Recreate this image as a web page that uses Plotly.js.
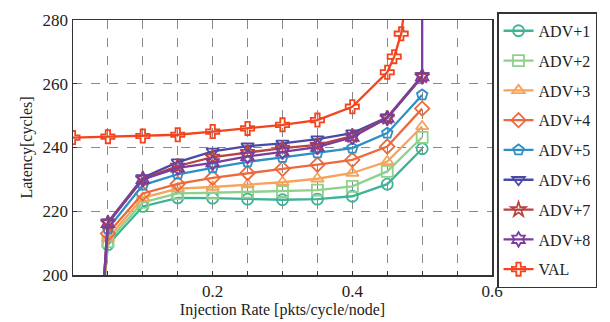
<!DOCTYPE html>
<html><head><meta charset="utf-8">
<script src="https://cdn.plot.ly/plotly-3.0.1.min.js"></script>
<style>html,body{margin:0;padding:0;background:#fff}#chart{width:610px;height:322px}</style>
</head><body><div id="chart"></div>
<script>
// injection rates
const xAdv = [0.04, 0.05, 0.10, 0.15, 0.20, 0.25, 0.30, 0.35, 0.40, 0.45, 0.50];
const xAdv8 = [0.04, 0.05, 0.10, 0.15, 0.20, 0.25, 0.30, 0.35, 0.40, 0.45, 0.50, 0.50];
const xVal = [0.00, 0.05, 0.10, 0.15, 0.20, 0.25, 0.30, 0.35, 0.40, 0.45, 0.46, 0.47, 0.48];

// latency values [cycles]
const adv1 = [185, 209.5, 221.5, 224.2, 224.1, 223.8, 223.6, 223.8, 224.7, 228.5, 239.6];
const adv2 = [185, 210.5, 222.8, 225.6, 225.8, 226.0, 226.2, 226.6, 227.8, 232.5, 243.2];
const adv3 = [185, 211.5, 224.2, 227.1, 227.6, 228.4, 229.1, 230.2, 232.0, 235.6, 246.6];
const adv4 = [185, 213.0, 225.6, 228.6, 230.5, 232.0, 233.3, 234.6, 236.1, 240.3, 252.2];
const adv5 = [185, 214.5, 228.2, 231.6, 233.6, 235.5, 236.9, 238.3, 239.8, 244.5, 256.5];
const adv6 = [185, 216.6, 230.5, 235.4, 238.8, 240.4, 241.3, 242.6, 244.5, 249.5, 262.5];
const adv7 = [185, 216.4, 230.2, 234.2, 237.0, 238.5, 239.8, 240.8, 243.6, 249.3, 262.3];
const adv8 = [185, 216.2, 230.0, 233.6, 235.2, 237.2, 238.6, 240.1, 243.2, 249.2, 262.2, 330];
const val  = [243.1, 243.4, 243.6, 244.0, 245.0, 246.0, 247.1, 248.6, 252.8, 263.6, 268.5, 275.7, 292];

const names = ["ADV+1","ADV+2","ADV+3","ADV+4","ADV+5","ADV+6","ADV+7","ADV+8","VAL"];
const colors = ["#3fb396","#8fd18c","#f7a35c","#ec6a3e","#2e8fc4","#4a4ba6","#b8433f","#7a3d9e","#f2451f"];
const symbols = ["circle-open","square-open","triangle-up-open","diamond-open","pentagon-open","triangle-down-open","star-open","hexagram-open","cross-open"];
const xs = [xAdv,xAdv,xAdv,xAdv,xAdv,xAdv,xAdv,xAdv8,xVal];
const ys = [adv1,adv2,adv3,adv4,adv5,adv6,adv7,adv8,val];

const traces = names.map((n,i)=>({
  type:'scatter', mode:'lines+markers', name:n, x:xs[i], y:ys[i],
  legendgroup:'g'+i,
  line:{color:colors[i], width:2.3},
  marker:{symbol:symbols[i], size:11, color:colors[i], line:{color:colors[i], width:1.8}}
}));

const font = "Liberation Serif";
const layout = {
  width:610, height:322,
  margin:{l:73, r:118, t:17, b:47},
  paper_bgcolor:'#fff', plot_bgcolor:'#fff',
  font:{family:font, size:15, color:'#222'},
  showlegend:true,
  legend:{x:1.012, y:1.03, xanchor:'left', yanchor:'top',
    bordercolor:'#333', borderwidth:1.5, bgcolor:'#fff',
    font:{family:font, size:16, color:'#222'},
    tracegroupgap:6, itemwidth:30, maxheight:320},
  xaxis:{range:[0,0.6], tickvals:[0.2,0.4,0.6], ticktext:['0.2','0.4','0.6'],
    showgrid:true, gridcolor:'#888', griddash:'dash', gridwidth:1,
    minor:{dtick:0.05, tick0:0, showgrid:true, gridcolor:'#888', griddash:'dash', gridwidth:1,
      ticks:'inside', ticklen:4, tickcolor:'#333'},
    ticks:'inside', ticklen:4, tickcolor:'#333',
    showline:true, linecolor:'#333', linewidth:1.5, mirror:true, zeroline:false,
    tickfont:{family:font, size:17},
    title:{text:'Injection Rate [pkts/cycle/node]', font:{family:font, size:16}, standoff:3}},
  yaxis:{range:[200,280], dtick:20, tick0:200,
    showgrid:true, gridcolor:'#888', griddash:'dash', gridwidth:1,
    ticks:'inside', ticklen:4, tickcolor:'#333',
    showline:true, linecolor:'#333', linewidth:1.5, mirror:true, zeroline:false,
    tickfont:{family:font, size:17},
    title:{text:'Latency[cycles]', font:{family:font, size:16}, standoff:6}}
};
Plotly.newPlot('chart', traces, layout, {displayModeBar:false, staticPlot:true});
</script></body></html>
